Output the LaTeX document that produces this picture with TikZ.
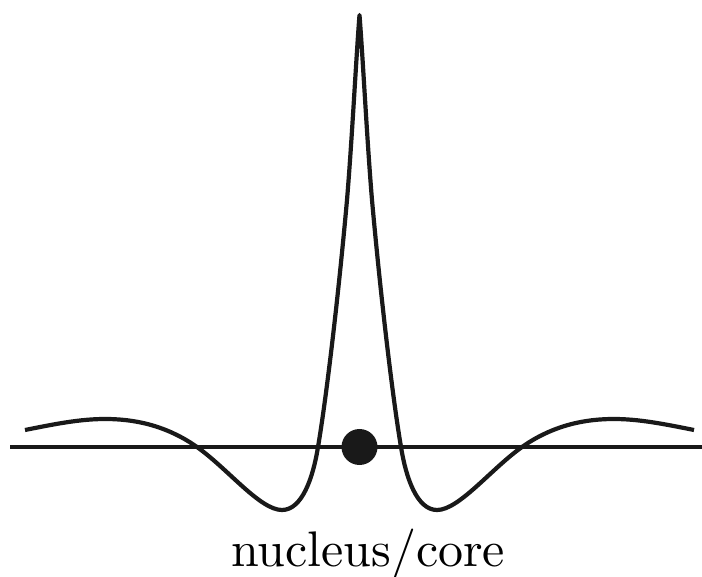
\documentclass[tikz,border=0pt]{standalone}
\usepackage{fontspec}
\newfontfamily\captionfont{lmroman10-regular.otf}
\begin{document}
\begin{tikzpicture}[x=1pt,y=-1pt,
  thick line/.style={line width=4.2pt,black!90},
  core/.style={circle,fill=black!90,inner sep=0pt,minimum size=36pt},
  caption/.style={anchor=base,inner sep=0pt,font=\captionfont\fontsize{50}{60}\selectfont}]
\useasboundingbox (0,0) rectangle (702,577);
\coordinate (axL) at (10,447);
\coordinate (axR) at (702,447);
\draw[thick line] (axL) -- (axR);
\draw[thick line,line join=round,line cap=butt]
  (25,430) .. controls (55,424) and (80,419) .. (105,419)
  .. controls (140,419) and (170,428) .. (197,447)
  .. controls (228,469) and (260,510) .. (282,510)
  .. controls (302,510) and (313,478) .. (318,447)
  .. controls (326,400) and (338,300) .. (347,200)
  .. controls (352,140) and (356,60) .. (359.5,15)
  .. controls (363,60) and (367,140) .. (372,200)
  .. controls (381,300) and (393,400) .. (401,447)
  .. controls (406,478) and (417,510) .. (437,510)
  .. controls (459,510) and (491,469) .. (522,447)
  .. controls (549,428) and (579,419) .. (614,419)
  .. controls (639,419) and (664,424) .. (694,430);
\node[core] (nucleus) at (359.5,447) {};
\node[caption] (label) at (368,566) {nucleus/core};
\end{tikzpicture}
\end{document}
